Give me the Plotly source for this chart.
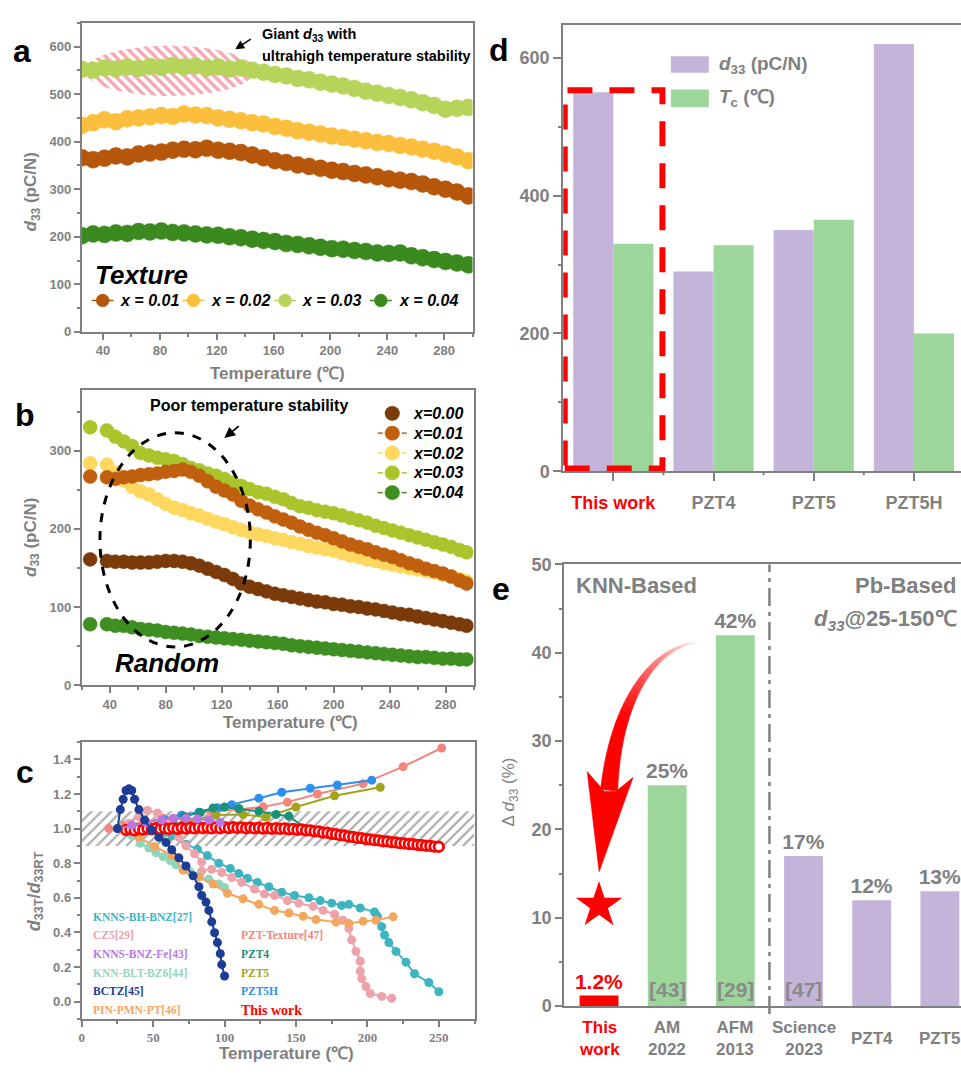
import numpy as np
import plotly.graph_objects as go

# ======================= DATA =======================
# Panel a : textured ceramics, d33 (pC/N) vs temperature (C)
a_temp = [25, 33, 41, 49, 57, 65, 73, 81, 89, 97, 105, 113, 121, 129, 137, 145, 153, 161, 169, 177,
          185, 193, 201, 209, 217, 225, 233, 241, 249, 257, 265, 273, 281, 289, 297]
a_x001 = [366, 362, 365, 370, 368, 374, 376, 378, 382, 384, 383, 386, 382, 380, 377, 372, 366, 360, 356, 351,
          348, 344, 340, 337, 333, 330, 326, 322, 319, 316, 311, 305, 300, 294, 286]
a_x002 = [434, 440, 446, 442, 448, 450, 452, 455, 453, 458, 456, 455, 450, 447, 444, 440, 437, 432, 428, 423,
          420, 416, 412, 409, 405, 402, 398, 396, 392, 389, 384, 380, 374, 368, 360]
a_x003 = [552, 550, 555, 553, 557, 554, 558, 556, 560, 557, 559, 555, 557, 553, 555, 550, 546, 541, 538, 533,
          530, 525, 521, 517, 512, 506, 502, 497, 493, 488, 482, 476, 468, 470, 472]
a_x004 = [202, 206, 205, 208, 207, 211, 210, 212, 209, 208, 206, 204, 203, 200, 198, 195, 192, 190, 186, 184,
          181, 178, 175, 174, 171, 169, 166, 165, 166, 160, 156, 152, 148, 145, 141]
a_names = ['x = 0.01', 'x = 0.02', 'x = 0.03', 'x = 0.04']

# Panel b : random ceramics
b_temp = [26, 38, 44, 50, 56, 62, 68, 74, 80, 86, 92, 98, 104, 110, 116, 122, 128, 134, 140, 146,
          152, 158, 164, 170, 176, 182, 188, 194, 200, 206, 212, 218, 224, 230, 236, 242, 248, 254, 260, 266,
          272, 278, 284, 290, 295]
b_x000 = [161, 159, 158, 158, 157, 157, 157, 158, 159, 159, 158, 156, 153, 149, 145, 141, 136, 130, 126, 123,
          120, 117, 115, 113, 111, 109, 107, 106, 104, 103, 101, 100, 98, 97, 95, 93, 91, 90, 88, 86,
          84, 82, 80, 78, 76]
b_x001 = [267, 266, 264, 266, 267, 269, 270, 271, 273, 274, 276, 273, 268, 261, 254, 249, 244, 236, 230, 225,
          221, 216, 212, 208, 203, 199, 195, 192, 188, 184, 180, 177, 174, 170, 167, 164, 160, 156, 153, 149,
          146, 143, 139, 134, 130]
b_x002 = [284, 282, 272, 262, 254, 248, 244, 238, 232, 227, 224, 220, 217, 213, 209, 206, 202, 199, 196, 193,
          191, 188, 186, 183, 181, 178, 176, 174, 172, 169, 166, 164, 161, 159, 156, 154, 152, 150, 148, 146,
          144, 141, 139, 136, 133]
b_x003 = [330, 326, 318, 312, 306, 297, 294, 291, 289, 287, 283, 278, 275, 271, 268, 264, 259, 255, 251, 247,
          245, 241, 238, 233, 229, 227, 224, 222, 220, 217, 214, 211, 208, 204, 201, 198, 195, 192, 189, 186,
          183, 180, 177, 173, 170]
b_x004 = [78, 78, 76, 76, 74, 72, 71, 70, 68, 67, 66, 65, 63, 62, 61, 60, 59, 58, 57, 56,
          55, 54, 53, 51, 50, 49, 48, 47, 46, 45, 44, 43, 42, 41, 40, 39, 38, 37, 36, 36,
          35, 34, 34, 33, 33]
b_names = ['x=0.00', 'x=0.01', 'x=0.02', 'x=0.03', 'x=0.04']

# Panel c : normalized d33T/d33RT vs temperature
c_knnsbh_t = [25, 40, 50, 57, 63, 73, 81, 88, 96, 104, 110, 116, 123, 131, 140, 149, 159, 167, 175, 182,
              187, 195, 205, 207, 210, 212, 215, 220, 227, 233, 243, 250]
c_knnsbh_v = [1.0, 1.0, 0.99, 0.98, 0.96, 0.91, 0.88, 0.844, 0.80, 0.77, 0.74, 0.713, 0.689, 0.664, 0.632,
              0.613, 0.60, 0.584, 0.569, 0.556, 0.562, 0.541, 0.518, 0.493, 0.433, 0.385, 0.341, 0.29, 0.228,
              0.161, 0.11, 0.057]
c_cz5_t = [25, 33, 40, 46, 53, 60, 68, 73, 79, 84, 84, 91, 98, 105, 112, 121, 128, 135, 144, 152, 162, 169,
           177, 183, 187, 189, 192, 195, 195, 196, 199, 202, 210, 217]
c_cz5_v = [1.0, 1.03, 1.07, 1.105, 1.09, 1.03, 0.95, 0.90, 0.854, 0.806, 0.755, 0.765, 0.746, 0.717, 0.689,
           0.651, 0.622, 0.613, 0.584, 0.569, 0.55, 0.527, 0.505, 0.47, 0.423, 0.357, 0.29, 0.233, 0.176,
           0.133, 0.087, 0.047, 0.03, 0.019]
c_knnsfe_t = [25, 35, 45, 56, 64, 73, 81, 89, 97]
c_knnsfe_v = [1.0, 1.02, 1.036, 1.05, 1.06, 1.06, 1.055, 1.05, 1.036]
c_knnblt_t = [28, 35, 41, 47, 52, 57, 62, 66, 71, 76, 82, 89, 96, 100]
c_knnblt_v = [1.0, 0.96, 0.915, 0.888, 0.86, 0.838, 0.815, 0.79, 0.765, 0.75, 0.727, 0.708, 0.68, 0.66]
c_bctz_t = [25, 27, 29, 31, 33, 35, 37, 40, 44, 49, 54, 59, 63, 68, 73, 78, 82, 84, 87, 89, 91, 93, 95, 97,
            98, 100]
c_bctz_v = [1.0, 1.11, 1.17, 1.22, 1.23, 1.22, 1.17, 1.11, 1.05, 0.99, 0.95, 0.92, 0.878, 0.831, 0.784,
            0.727, 0.664, 0.613, 0.575, 0.527, 0.461, 0.398, 0.341, 0.277, 0.214, 0.148]
c_pin_t = [28, 40, 51, 63, 71, 82, 92, 102, 113, 124, 135, 145, 155, 164, 178, 187, 197, 206, 218]
c_pin_v = [1.0, 0.95, 0.897, 0.846, 0.759, 0.72, 0.68, 0.626, 0.594, 0.562, 0.527, 0.512, 0.493, 0.474,
           0.459, 0.452, 0.465, 0.47, 0.49]
c_pztt_t = [19, 30, 45, 57, 70, 91, 110, 127, 144, 165, 197, 225, 252]
c_pztt_v = [1.0, 1.02, 1.04, 1.06, 1.077, 1.10, 1.11, 1.126, 1.153, 1.2, 1.26, 1.358, 1.466]
c_pzt4_t = [40, 48, 56, 64, 72, 83, 92, 100, 110, 124, 136, 145, 157]
c_pzt4_v = [1.0, 1.01, 1.03, 1.05, 1.07, 1.093, 1.119, 1.125, 1.116, 1.10, 1.082, 1.072, 1.0]
c_pzt5_t = [45, 54, 62, 72, 94, 113, 129, 150, 177, 209]
c_pzt5_v = [1.0, 1.006, 1.012, 1.034, 1.078, 1.081, 1.066, 1.125, 1.19, 1.239]
c_pzt5h_t = [45, 58, 70, 82, 95, 105, 124, 140, 160, 179, 203]
c_pzt5h_v = [1.0, 1.05, 1.077, 1.095, 1.12, 1.138, 1.176, 1.21, 1.233, 1.252, 1.28]
c_this_t = list(range(31, 251, 3))
c_this_v = [0.992, 0.996, 0.990, 0.998, 0.994, 1.000, 0.995, 1.002, 0.997, 1.003,
            0.998, 1.004, 0.999, 1.005, 1.000, 1.006, 1.001, 1.007, 1.002, 1.006,
            1.001, 1.007, 1.002, 1.008, 1.003, 1.009, 1.004, 1.007, 1.002, 1.006,
            1.001, 1.005, 1.000, 1.004, 0.999, 1.003, 0.998, 1.001, 0.996, 0.998,
            0.993, 0.995, 0.990, 0.990, 0.984, 0.984, 0.977, 0.976, 0.970, 0.968,
            0.962, 0.960, 0.954, 0.952, 0.946, 0.945, 0.940, 0.938, 0.933, 0.932,
            0.927, 0.926, 0.921, 0.920, 0.916, 0.915, 0.911, 0.910, 0.906, 0.905,
            0.901, 0.900, 0.896, 0.895]

# Panel d
d_cats = ['This work', 'PZT4', 'PZT5', 'PZT5H']
d_d33 = [550, 290, 350, 620]
d_tc = [330, 328, 365, 200]

# Panel e
e_cats = ['This work', 'AM 2022', 'AFM 2013', 'Science 2023', 'PZT4', 'PZT5']
e_vals = [1.2, 25, 42, 17, 12, 13]
e_refs = ['', '[43]', '[29]', '[47]', '', '']
e_group = ['this', 'KNN', 'KNN', 'Pb', 'Pb', 'Pb']

# ======================= STYLE / LAYOUT =======================
W, H = 961, 1075
def fx(p): return p / W
def fy(p): return 1 - p / H

GRAY = '#808080'
SANS = 'Liberation Sans, Arial, Helvetica, sans-serif'
SERIF = 'Liberation Serif, Times New Roman, serif'

fig = go.Figure()

boxes = dict(a=(79, 471, 13, 328), b=(79, 472, 387, 688), c=(79, 473, 746, 1028),
             d=(562, 961, 15, 470), e=(563, 961, 565, 1015))
axid = dict(a='', b='2', c='3', d='4', e='5')

def tfont(size=13, family=SANS, color=GRAY):
    return dict(family=family, size=size, color=color, weight='bold')

def minor(dt):
    return dict(dtick=dt, ticks='outside', ticklen=3, tickwidth=1.5, tickcolor=GRAY)

def make_axes(p, xkw, ykw):
    l, r, t, b = boxes[p]
    n = axid[p]
    base = dict(showline=True, linecolor=GRAY, linewidth=2, ticks='outside', ticklen=6, tickwidth=2,
                tickcolor=GRAY, showgrid=False, zeroline=False, tickfont=tfont())
    xa = dict(base, domain=[fx(l), fx(r)], anchor='y' + n, mirror=True)
    xa.update(xkw)
    ya = dict(base, domain=[fy(b), fy(t)], anchor='x' + n, mirror=True)
    ya.update(ykw)
    fig.update_layout(**{'xaxis' + n: xa, 'yaxis' + n: ya})

make_axes('a', dict(range=[25, 300], dtick=40, minor=minor(20)),
          dict(range=[0, 650], dtick=100, minor=minor(50)))
make_axes('b', dict(range=[20, 300], dtick=40, minor=minor(20)),
          dict(range=[0, 378], dtick=100, minor=minor(50)))
make_axes('c', dict(range=[0, 275], dtick=50, minor=minor(25), tickfont=tfont(13, SERIF)),
          dict(range=[-0.1, 1.5], dtick=0.2, tickformat='.1f', minor=minor(0.1)))
make_axes('d', dict(type='category', range=[-0.5, 3.47], ticklen=8, tickmode='array', tickvals=d_cats,
                    ticktext=[('<span style="color:#ff0000">%s</span>' % c) if c == 'This work' else c
                              for c in d_cats],
                    tickfont=tfont(18), ticklabelstandoff=6),
          dict(range=[0, 648], dtick=200, ticklen=8, minor=minor(100), tickfont=tfont(18), mirror=False))
make_axes('e', dict(type='category', range=[-0.51, 5.31], ticks='', showticklabels=False),
          dict(range=[0, 50], dtick=10, ticklen=7, minor=minor(5), tickfont=tfont(18), mirror=False))

def ann(text, x, y, size, color='black', xanchor='center', yanchor='middle', bold=True, italic=False,
        family=SANS, angle=0):
    fig.add_annotation(text=text, x=fx(x), y=fy(y), xref='paper', yref='paper', xanchor=xanchor,
                       yanchor=yanchor, showarrow=False, textangle=angle,
                       font=dict(family=family, size=size, color=color,
                                 weight='bold' if bold else 'normal',
                                 style='italic' if italic else 'normal'))

def pline(x0, y0, x1, y1, color, width, dash=None):
    fig.add_shape(type='line', xref='paper', yref='paper', x0=fx(x0), y0=fy(y0), x1=fx(x1), y1=fy(y1),
                  line=dict(color=color, width=width, dash=dash))

def pcircle(cx, cy, r, color):
    fig.add_shape(type='circle', xref='paper', yref='paper', x0=fx(cx - r), x1=fx(cx + r),
                  y0=fy(cy + r), y1=fy(cy - r), fillcolor=color, line=dict(color=color, width=0.5))

# ---------------- Panel a ----------------
th = np.linspace(0, 2 * np.pi, 160)
fig.add_trace(go.Scatter(x=87 + 60 * np.cos(th), y=549 + 53 * np.sin(th), mode='lines',
                         line=dict(width=0, color='rgba(0,0,0,0)'), fill='toself', fillcolor='rgba(0,0,0,0)',
                         fillpattern=dict(shape='\\', fgcolor='#e6536a', bgcolor='rgba(0,0,0,0)', size=7,
                                          solidity=0.5),
                         hoverinfo='skip', showlegend=False, xaxis='x', yaxis='y'))
a_colors = ['#b5560b', '#fbbe3d', '#b6d35a', '#3b8a1f']
for vals, col, name in zip([a_x001, a_x002, a_x004, a_x003], [a_colors[0], a_colors[1], a_colors[3], a_colors[2]],
                           [a_names[0], a_names[1], a_names[3], a_names[2]]):
    fig.add_trace(go.Scatter(x=a_temp, y=vals, mode='lines+markers', name=name,
                             marker=dict(size=17, color=col, line=dict(width=0.5, color=col)),
                             line=dict(color=col, width=1.5), xaxis='x', yaxis='y'))

ann('a', 19, 42, 32)
ann('<i>d</i><sub>33</sub> (pC/N)', 29, 185, 17, GRAY, angle=-90)
ann('Temperature (℃)', 275, 370, 17, GRAY)
ann('Giant <i>d</i><sub>33</sub> with', 258, 25, 14.5, xanchor='left')
ann('ultrahigh temperature stability', 258, 47, 14.5, xanchor='left')
fig.add_annotation(x=fx(233), y=fy(40), xref='paper', yref='paper', ax=17, ay=-11, text='',
                   showarrow=True, arrowhead=2, arrowsize=1.2, arrowwidth=1.5, arrowcolor='black')
ann('<i>Texture</i>', 90, 270, 26, xanchor='left')
for name, col, lx, mx, tx in zip(a_names, a_colors, [89, 180, 272, 368], [100, 191, 283, 379],
                                 [115, 207, 298, 395]):
    pline(lx, 296, lx + 22, 296, col, 1.5)
    pcircle(mx, 296, 6.5, col)
    ann('<i>%s</i>' % name, tx, 296, 16, xanchor='left')

# ---------------- Panel b ----------------
b_colors = ['#7b3a0a', '#c0600e', '#fdd75e', '#a9c52b', '#3f8e21']
for vals, col, name in zip([b_x003, b_x002, b_x001, b_x000, b_x004],
                           [b_colors[3], b_colors[2], b_colors[1], b_colors[0], b_colors[4]],
                           [b_names[3], b_names[2], b_names[1], b_names[0], b_names[4]]):
    fig.add_trace(go.Scatter(x=b_temp, y=vals, mode='markers', name=name,
                             marker=dict(size=14, color=col, line=dict(width=0.5, color=col)),
                             xaxis='x2', yaxis='y2'))
fig.add_shape(type='circle', xref='x2', yref='y2', x0=33, x1=140.5, y0=49, y1=323,
              line=dict(color='black', width=3, dash='dash'))
ann('b', 22, 413, 32)
ann('<i>d</i><sub>33</sub> (pC/N)', 29, 537, 17, GRAY, angle=-90)
ann('Temperature (℃)', 288, 726, 17, GRAY)
ann('Poor temperature stability', 247, 403, 16)
fig.add_annotation(x=fx(222), y=fy(436), xref='paper', yref='paper', ax=16, ay=-13, text='',
                   showarrow=True, arrowhead=2, arrowsize=1.2, arrowwidth=1.8, arrowcolor='black')
ann('<i>Random</i>', 165, 665, 26)
for i, (name, col) in enumerate(zip(b_names, b_colors)):
    y = 411 + 20.2 * i
    if i > 0:
        pline(376, y, 381, y, col, 1.5)
        pline(400, y, 405, y, col, 1.5)
    pcircle(390.5, y, 7.3, col)
    ann('<i>%s</i>' % name, 409, y, 16, xanchor='left')

# ---------------- Panel c ----------------
fig.add_trace(go.Scatter(x=[0, 275, 275, 0, 0], y=[0.9, 0.9, 1.1, 1.1, 0.9], mode='lines',
                         line=dict(width=0, color='rgba(0,0,0,0)'), fill='toself', fillcolor='rgba(0,0,0,0)',
                         fillpattern=dict(shape='/', fgcolor='#555555', bgcolor='rgba(0,0,0,0)', size=7,
                                          solidity=0.32),
                         hoverinfo='skip', showlegend=False, xaxis='x3', yaxis='y3'))
c_series = [
    ('PZT-Texture[47]', c_pztt_t, c_pztt_v, '#f4857c'),
    ('PZT5H', c_pzt5h_t, c_pzt5h_v, '#2d90f0'),
    ('PZT5', c_pzt5_t, c_pzt5_v, '#a2a31e'),
    ('PZT4', c_pzt4_t, c_pzt4_v, '#1a9178'),
    ('KNNS-BH-BNZ[27]', c_knnsbh_t, c_knnsbh_v, '#3db5c0'),
    ('CZ5[29]', c_cz5_t, c_cz5_v, '#eea2aa'),
    ('KNN-BLT-BZ6[44]', c_knnblt_t, c_knnblt_v, '#92d5bf'),
    ('PIN-PMN-PT[46]', c_pin_t, c_pin_v, '#f5a65e'),
]
for name, t, v, col in c_series:
    fig.add_trace(go.Scatter(x=t, y=v, mode='lines+markers', name=name, line=dict(color=col, width=2),
                             marker=dict(size=9, color=col), xaxis='x3', yaxis='y3'))
fig.add_trace(go.Scatter(x=c_this_t, y=c_this_v, mode='markers', name='This work',
                         marker=dict(size=9.5, color='white', line=dict(color='#ff0000', width=2.8)),
                         xaxis='x3', yaxis='y3'))
for name, t, v, col in [('KNNS-BNZ-Fe[43]', c_knnsfe_t, c_knnsfe_v, '#b878e2'),
                        ('BCTZ[45]', c_bctz_t, c_bctz_v, '#1c3c96')]:
    fig.add_trace(go.Scatter(x=t, y=v, mode='lines+markers', name=name, line=dict(color=col, width=2),
                             marker=dict(size=9, color=col), xaxis='x3', yaxis='y3'))
ann('c', 22, 776, 32)
ann('<i>d</i><sub>33T</sub>/<i>d</i><sub>33RT</sub>', 32, 898, 18, GRAY, angle=-90)
ann('Temperature (℃)', 284, 1063, 17, GRAY)
c_left = [('KNNS-BH-BNZ[27]', '#3db5c0'), ('CZ5[29]', '#eea2aa'), ('KNNS-BNZ-Fe[43]', '#b878e2'),
          ('KNN-BLT-BZ6[44]', '#92d5bf'), ('BCTZ[45]', '#1c3c96'), ('PIN-PMN-PT[46]', '#f5a65e')]
c_right = [('PZT-Texture[47]', '#f4857c'), ('PZT4', '#1a9178'), ('PZT5', '#a2a31e'), ('PZT5H', '#2d90f0')]
for i, (name, col) in enumerate(c_left):
    ann(name, 88, 924 + 19 * i, 11.5, col, xanchor='left', family=SERIF)
for i, (name, col) in enumerate(c_right):
    ann(name, 237, 943 + 19 * i, 11.5, col, xanchor='left', family=SERIF)
ann('This work', 237, 1019, 14, '#ff0000', xanchor='left', family=SERIF)

# ---------------- Panel d ----------------
fig.add_trace(go.Bar(x=d_cats, y=d_d33, name='d33', marker=dict(color='#c5b4d9', line=dict(width=0)),
                     xaxis='x4', yaxis='y4'))
fig.add_trace(go.Bar(x=d_cats, y=d_tc, name='Tc', marker=dict(color='#9dd69b', line=dict(width=0)),
                     xaxis='x4', yaxis='y4'))
for k in range(len(d_cats)):
    fig.add_shape(type='line', xref='x4', yref='paper', x0=k + 0.5, x1=k + 0.5, y0=fy(470), y1=fy(474),
                  line=dict(color=GRAY, width=2))
fig.add_shape(type='rect', xref='x4', yref='y4', x0=-0.485, x1=0.49, y0=4, y1=553,
              line=dict(color='#ff0000', width=6, dash='25px,17px'))
ann('d', 498, 41, 32)
fig.add_shape(type='rect', xref='paper', yref='paper', x0=fx(670), x1=fx(708), y0=fy(64), y1=fy(47),
              fillcolor='#c5b4d9', line=dict(width=0))
fig.add_shape(type='rect', xref='paper', yref='paper', x0=fx(670), x1=fx(708), y0=fy(99), y1=fy(81),
              fillcolor='#9dd69b', line=dict(width=0))
ann('<i>d</i><sub>33</sub> (pC/N)', 716, 56, 19, GRAY, xanchor='left')
ann('<i>T</i><sub>c</sub> (℃)', 716, 90, 19, GRAY, xanchor='left')

# ---------------- Panel e ----------------
grp_color = {'this': '#ff0000', 'KNN': '#9dd69b', 'Pb': '#c5b4d9'}
fig.add_trace(go.Bar(x=e_cats, y=e_vals, width=0.57, name='delta d33',
                     marker=dict(color=[grp_color[g] for g in e_group], line=dict(width=0)),
                     text=['%g%%' % v for v in e_vals], textposition='outside', textangle=0,
                     constraintext='none', cliponaxis=False,
                     textfont=dict(family=SANS, size=21, weight='bold',
                                   color=['#ff0000' if g == 'this' else GRAY for g in e_group]),
                     xaxis='x5', yaxis='y5'))
for c, r in zip(e_cats, e_refs):
    if r:
        fig.add_annotation(x=c, y=0, xref='x5', yref='y5', text=r, showarrow=False, yanchor='bottom',
                           yshift=3, font=dict(family=SANS, size=21, color='#8a8a8a', weight='bold'))
for c, g in zip(e_cats, e_group):
    col = '#ff0000' if g == 'this' else GRAY
    if ' ' in c:
        fig.add_annotation(x=c, y=fy(1025), xref='x5', yref='paper', text=c.replace(' ', '<br>'),
                           showarrow=False, yanchor='top', font=dict(family=SANS, size=17, color=col,
                                                                     weight='bold'))
    else:
        fig.add_annotation(x=c, y=fy(1048), xref='x5', yref='paper', text=c, showarrow=False,
                           yanchor='middle', font=dict(family=SANS, size=17, color=col, weight='bold'))
fig.add_shape(type='line', xref='x5', yref='paper', x0=2.5, x1=2.5, y0=fy(1023), y1=fy(565),
              line=dict(color=GRAY, width=2.5, dash='18px,6px,4px,6px'))
fig.add_trace(go.Scatter(x=['This work'], y=[11.4], mode='markers', name='star',
                         marker=dict(symbol='star', size=35, color='#ff0000', line=dict(width=0)),
                         xaxis='x5', yaxis='y5'))
ann('e', 500, 590, 32)
ann('KNN-Based', 573, 586, 22, GRAY, xanchor='left')
ann('Pb-Based', 853, 586, 22, GRAY, xanchor='left')
ann('<i>d<sub>33</sub></i>@25-150℃', 812, 622, 22, GRAY, xanchor='left')
ann('Δ <i>d</i><sub>33</sub> (%)', 509, 797, 17, GRAY, bold=False, angle=-90)

# curved gradient arrow
P = np.array([[693, 645], [655, 650], [615, 700], [608, 795]], float)
ts = np.linspace(0, 1, 31)
pts = np.array([((1 - t) ** 3) * P[0] + 3 * (1 - t) ** 2 * t * P[1] + 3 * (1 - t) * t ** 2 * P[2] + t ** 3 * P[3]
                for t in ts])
der = np.array([3 * (1 - t) ** 2 * (P[1] - P[0]) + 6 * (1 - t) * t * (P[2] - P[1]) + 3 * t ** 2 * (P[3] - P[2])
                for t in ts])
nrm = np.stack([-der[:, 1], der[:, 0]], 1)
nrm /= np.linalg.norm(nrm, axis=1)[:, None]
hw = 0.6 + 8.0 * ts ** 1.3
Lp = pts + nrm * hw[:, None]
Rp = pts - nrm * hw[:, None]

def ppath(points):
    return 'M ' + ' L '.join('%.5f,%.5f' % (fx(x), fy(y)) for x, y in points) + ' Z'

for i in range(len(ts) - 1):
    m = min(((ts[i] + ts[i + 1]) / 2) / 0.7, 1.0)
    g = int(round(238 * (1 - m)))
    col = 'rgb(255,%d,%d)' % (g, g)
    fig.add_shape(type='path', xref='paper', yref='paper', path=ppath([Lp[i], Lp[i + 1], Rp[i + 1], Rp[i]]),
                  fillcolor=col, line=dict(color=col, width=0.6))
fig.add_shape(type='path', xref='paper', yref='paper',
              path=ppath([(586, 776), (603, 796), (615, 796), (632, 782), (598, 878)]),
              fillcolor='#ff0000', line=dict(color='#ff0000', width=0.6))

fig.update_layout(autosize=True, margin=dict(l=0, r=0, t=0, b=0), showlegend=False,
                  plot_bgcolor='white', paper_bgcolor='white', barmode='group', bargap=0.2, bargroupgap=0,
                  font=dict(family=SANS, color=GRAY))

# the page body keeps its default margin; pin the plot div to the top-left corner of the page
fig.write_html("out.html", config={'displayModeBar': False},
               default_width="%dpx; position:absolute; left:0px; top:0px" % W,
               default_height="%dpx" % H)
